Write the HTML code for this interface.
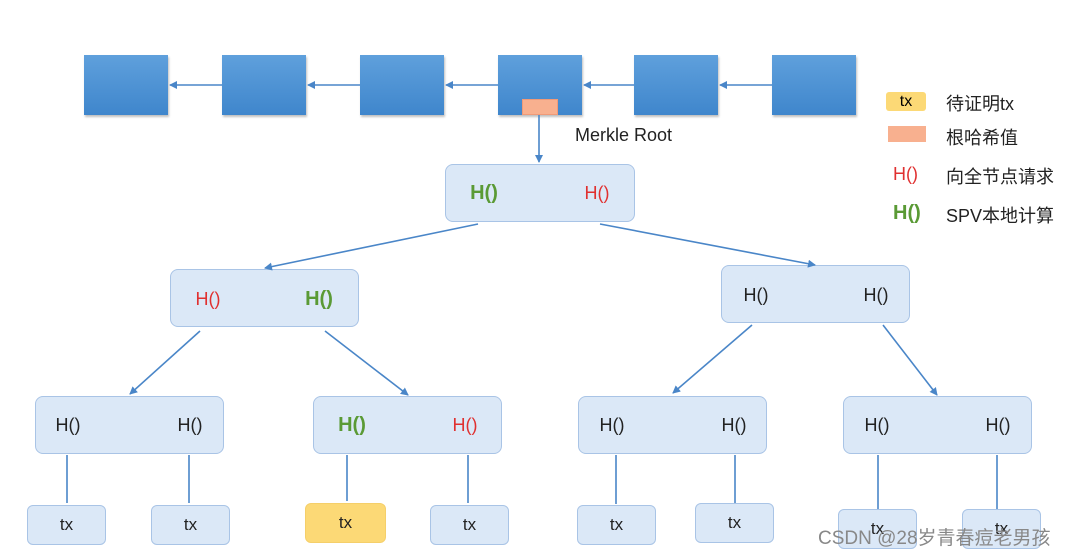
<!DOCTYPE html>
<html><head><meta charset="utf-8"><style>
body{margin:0;width:1070px;height:554px;background:#fff;position:relative;overflow:hidden;font-family:"Liberation Sans","Noto Sans CJK SC",sans-serif}
.b{position:absolute;width:84px;height:60px;top:55px;background:linear-gradient(#5fa0dc,#3f86cc);box-shadow:1px 2px 2px rgba(0,0,0,.25)}
.n{position:absolute;height:58px;width:189px;background:#dbe8f7;border:1.5px solid #a9c4e6;border-radius:8px;box-sizing:border-box}
.l{position:absolute;width:79px;height:40px;background:#dbe8f7;border:1.5px solid #a9c4e6;border-radius:6px;box-sizing:border-box;text-align:center;line-height:38px;font-size:17px;color:#222}
.t{position:absolute;font-size:18px;color:#222;transform:translateX(-50%)}
.lg{position:absolute;font-size:18px;color:#222}
.r{color:#e03030}.g{color:#5a9a35;font-weight:bold;font-size:20px}
</style></head><body>
<div class="b" style="left:84px"></div><div class="b" style="left:222px"></div><div class="b" style="left:360px"></div><div class="b" style="left:498px"></div><div class="b" style="left:634px"></div><div class="b" style="left:772px"></div>
<div style="position:absolute;left:522px;top:99px;width:34px;height:14px;background:#f8b08f;border:1px solid #f09a78"></div>
<div class="lg" style="left:575px;top:125px">Merkle Root</div>

<div class="n" style="left:445px;top:164px;width:190px"></div>
<div class="n" style="left:170px;top:269px"></div>
<div class="n" style="left:721px;top:265px"></div>
<div class="n" style="left:35px;top:396px"></div>
<div class="n" style="left:313px;top:396px"></div>
<div class="n" style="left:578px;top:396px"></div>
<div class="n" style="left:843px;top:396px"></div>

<svg width="1070" height="554" style="position:absolute;left:0;top:0">
<defs><marker id="a" markerWidth="8" markerHeight="8" refX="7" refY="4" orient="auto" markerUnits="userSpaceOnUse"><path d="M0,0L8,4L0,8z" fill="#4a86c8"/></marker></defs>
<g stroke="#4a86c8" stroke-width="1.6" fill="none">
<line x1="222" y1="85" x2="170" y2="85" marker-end="url(#a)"/>
<line x1="360" y1="85" x2="308" y2="85" marker-end="url(#a)"/>
<line x1="498" y1="85" x2="446" y2="85" marker-end="url(#a)"/>
<line x1="634" y1="85" x2="584" y2="85" marker-end="url(#a)"/>
<line x1="772" y1="85" x2="720" y2="85" marker-end="url(#a)"/>
<line x1="539" y1="115" x2="539" y2="162" marker-end="url(#a)"/>
<line x1="478" y1="224" x2="265" y2="268" marker-end="url(#a)"/>
<line x1="600" y1="224" x2="815" y2="265" marker-end="url(#a)"/>
<line x1="200" y1="331" x2="130" y2="394" marker-end="url(#a)"/>
<line x1="325" y1="331" x2="408" y2="395" marker-end="url(#a)"/>
<line x1="752" y1="325" x2="673" y2="393" marker-end="url(#a)"/>
<line x1="883" y1="325" x2="937" y2="395" marker-end="url(#a)"/>
<line x1="67" y1="455" x2="67" y2="503"/><line x1="189" y1="455" x2="189" y2="503"/>
<line x1="347" y1="455" x2="347" y2="501"/><line x1="468" y1="455" x2="468" y2="503"/>
<line x1="616" y1="455" x2="616" y2="504"/><line x1="735" y1="455" x2="735" y2="504"/>
<line x1="878" y1="455" x2="878" y2="510"/><line x1="997" y1="455" x2="997" y2="510"/>
</g></svg>

<div class="t g" style="left:484px;top:182px">H()</div><div class="t r" style="left:597px;top:183px">H()</div>
<div class="t r" style="left:208px;top:289px">H()</div><div class="t g" style="left:319px;top:288px">H()</div>
<div class="t" style="left:756px;top:285px">H()</div><div class="t" style="left:876px;top:285px">H()</div>
<div class="t" style="left:68px;top:415px">H()</div><div class="t" style="left:190px;top:415px">H()</div>
<div class="t g" style="left:352px;top:414px">H()</div><div class="t r" style="left:465px;top:415px">H()</div>
<div class="t" style="left:612px;top:415px">H()</div><div class="t" style="left:734px;top:415px">H()</div>
<div class="t" style="left:877px;top:415px">H()</div><div class="t" style="left:998px;top:415px">H()</div>

<div class="l" style="left:27px;top:505px">tx</div>
<div class="l" style="left:151px;top:505px">tx</div>
<div class="l" style="left:305px;top:503px;width:81px;background:#fcd976;border-color:#f5cf6a">tx</div>
<div class="l" style="left:430px;top:505px">tx</div>
<div class="l" style="left:577px;top:505px">tx</div>
<div class="l" style="left:695px;top:503px">tx</div>
<div class="l" style="left:838px;top:509px">tx</div>
<div class="l" style="left:962px;top:509px">tx</div>

<div style="position:absolute;left:886px;top:92px;width:40px;height:19px;background:#fcd976;border-radius:3px;text-align:center;font-size:16px;line-height:19px">tx</div>
<div style="position:absolute;left:888px;top:126px;width:38px;height:16px;background:#f8b08f"></div>
<div class="lg" style="left:946px;top:90px">待证明tx</div>
<div class="lg" style="left:946px;top:124px">根哈希值</div>
<div class="lg" style="left:946px;top:163px">向全节点请求</div>
<div class="lg" style="left:946px;top:202px">SPV本地计算</div>
<div style="position:absolute;left:893px;top:164px;font-size:18px;color:#e03030">H()</div>
<div style="position:absolute;left:893px;top:202px;font-size:20px;font-weight:bold;color:#5a9a35">H()</div>

<div style="position:absolute;left:818px;top:523px;font-size:19px;color:#888;white-space:nowrap">CSDN @28岁青春痘老男孩</div>
</body></html>
